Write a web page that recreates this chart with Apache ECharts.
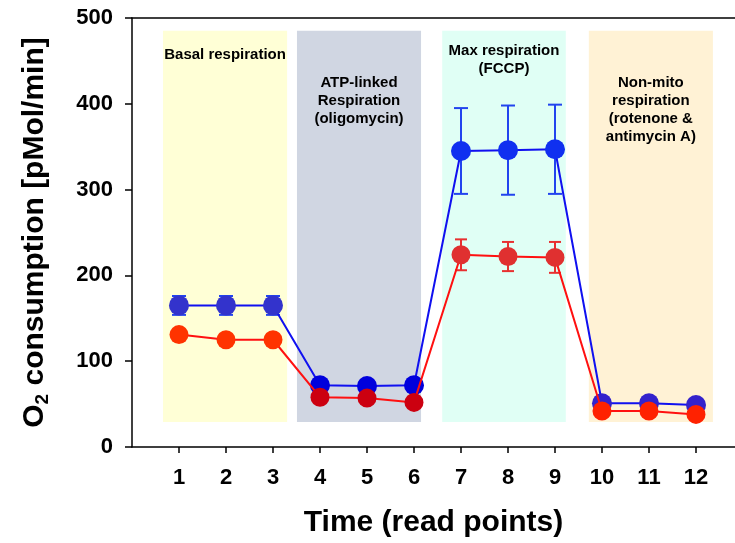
<!DOCTYPE html>
<html>
<head>
<meta charset="utf-8">
<script src="https://cdn.jsdelivr.net/npm/echarts@6/dist/echarts.min.js"></script>
<style>
  html, body { margin: 0; padding: 0; background: #fff; }
  #chart { width: 735px; height: 543px; }
</style>
</head>
<body>
<div id="chart"></div>
<script>
// read points
var readPoints = [1, 2, 3, 4, 5, 6, 7, 8, 9, 10, 11, 12];
var yTicks = [0, 100, 200, 300, 400, 500];

// O2 consumption, two groups (mean and error)
var blueMean = [165, 165, 165, 72, 71, 72, 345, 346, 347, 51, 51, 49];
var blueErr  = [11, 11, 11, 4, 4, 4, 50, 52, 52, 4, 4, 4];
var redMean  = [131, 125, 125, 58, 57, 52, 224, 222, 221, 42, 42, 38];
var redErr   = [4, 4, 4, 3, 3, 3, 18, 17, 18, 3, 3, 3];

// phase boxes: [x from, x to, y from, y to]
var phaseNames = [
    'Basal respiration',
    'ATP-linked\nRespiration\n(oligomycin)',
    'Max respiration\n(FCCP)',
    'Non-mito\nrespiration\n(rotenone &\nantimycin A)'
];
var phaseBox = [
    [0.66, 3.30, 29, 485],
    [3.51, 6.15, 29, 485],
    [6.60, 9.23, 29, 485],
    [9.72, 12.36, 29, 485]
];
var phaseColor = ['#FFFFD6', '#D0D6E2', '#E0FFF5', '#FFF2D5'];
var phaseLabelGap = [15, 43, 11, 43];
var blueDot = ['#3333CC', '#0000DD', '#1030F0', '#3322CC'];
var redDot  = ['#FF3300', '#CC0010', '#E03030', '#FF2200'];

function phaseOf(i) {
    return Math.floor(i / 3);
}

function pts(mean, dots) {
    var out = [];
    for (var i = 0; i < mean.length; i++) {
        out.push({ value: [readPoints[i], mean[i]], itemStyle: { color: dots[phaseOf(i)] } });
    }
    return out;
}

function errData(mean, err) {
    var out = [];
    for (var i = 0; i < mean.length; i++) {
        out.push([readPoints[i], mean[i] - err[i], mean[i] + err[i]]);
    }
    return out;
}

function errSeries(mean, err, color, cap) {
    return {
        type: 'custom',
        z: 2,
        silent: true,
        data: errData(mean, err),
        encode: { x: 0, y: [1, 2] },
        renderItem: function (params, api) {
            var lo = api.coord([api.value(0), api.value(1)]);
            var hi = api.coord([api.value(0), api.value(2)]);
            var st = { stroke: color, lineWidth: 2 };
            return {
                type: 'group',
                children: [
                    { type: 'line', shape: { x1: lo[0], y1: lo[1], x2: hi[0], y2: hi[1] }, style: st },
                    { type: 'line', shape: { x1: lo[0] - cap, y1: lo[1], x2: lo[0] + cap, y2: lo[1] }, style: st },
                    { type: 'line', shape: { x1: hi[0] - cap, y1: hi[1], x2: hi[0] + cap, y2: hi[1] }, style: st }
                ]
            };
        }
    };
}

var areas = [];
for (var k = 0; k < phaseBox.length; k++) {
    areas.push([
        {
            name: phaseNames[k],
            coord: [phaseBox[k][0], phaseBox[k][3]],
            itemStyle: { color: phaseColor[k] },
            label: { distance: phaseLabelGap[k] }
        },
        { coord: [phaseBox[k][1], phaseBox[k][2]] }
    ]);
}

var font = 'Liberation Sans, Arial, sans-serif';
var xMax = 12.83; // axis runs off the right edge
var myChart = echarts.init(document.getElementById('chart'));
var option = {
    backgroundColor: '#fff',
    animation: false,
    grid: { left: 132, right: 0, top: 18, bottom: 96 },
    xAxis: [{
        type: 'value',
        min: 0,
        max: xMax,
        interval: 1,
        name: 'Time (read points)',
        nameLocation: 'middle',
        nameGap: 61,
        nameTextStyle: { fontSize: 30, fontWeight: 'bold', color: '#000', fontFamily: font },
        axisLine: { lineStyle: { color: '#000', width: 1.5 } },
        axisTick: { show: true, length: 6, lineStyle: { color: '#000', width: 1.5 }, customValues: readPoints },
        axisLabel: { fontSize: 22, fontWeight: 'bold', color: '#000', fontFamily: font, margin: 20, customValues: readPoints },
        splitLine: { show: false }
    }, {
        type: 'value',
        position: 'top',
        min: 0,
        max: xMax,
        axisLine: { show: true, onZero: false, lineStyle: { color: '#000', width: 1.5 } },
        axisTick: { show: false },
        axisLabel: { show: false },
        splitLine: { show: false }
    }],
    yAxis: {
        type: 'value',
        min: 0,
        max: 500,
        interval: 100,
        name: '{a|O}{s|2}{a| consumption [pMol/min]}',
        nameLocation: 'middle',
        nameRotate: 90,
        nameGap: 80,
        nameTextStyle: {
            rich: {
                a: { fontSize: 30, fontWeight: 'bold', color: '#000', fontFamily: font, lineHeight: 34 },
                s: { fontSize: 19, fontWeight: 'bold', color: '#000', fontFamily: font, lineHeight: 19, verticalAlign: 'bottom' }
            }
        },
        axisLine: { show: true, lineStyle: { color: '#000', width: 1.5 } },
        axisTick: { show: true, length: 7, lineStyle: { color: '#000', width: 1.5 } },
        axisLabel: { fontSize: 22, fontWeight: 'bold', color: '#000', fontFamily: font, margin: 19 },
        splitLine: { show: false }
    },
    series: [
        {
            type: 'line',
            name: 'blue',
            z: 3,
            data: pts(blueMean, blueDot),
            symbol: 'circle',
            symbolSize: 20,
            lineStyle: { color: '#1010F0', width: 2 },
            markArea: {
                silent: true,
                label: {
                    position: 'insideTop',
                    fontSize: 15,
                    fontWeight: 'bold',
                    color: '#000',
                    fontFamily: font,
                    lineHeight: 18,
                    align: 'center'
                },
                data: areas
            }
        },
        errSeries(blueMean, blueErr, '#2244EE', 7),
        errSeries(redMean, redErr, '#E83030', 6),
        {
            type: 'line',
            name: 'red',
            z: 4,
            data: pts(redMean, redDot),
            symbol: 'circle',
            symbolSize: 19,
            lineStyle: { color: '#FF1010', width: 2 }
        }
    ]
};
myChart.setOption(option);
</script>
</body>
</html>
